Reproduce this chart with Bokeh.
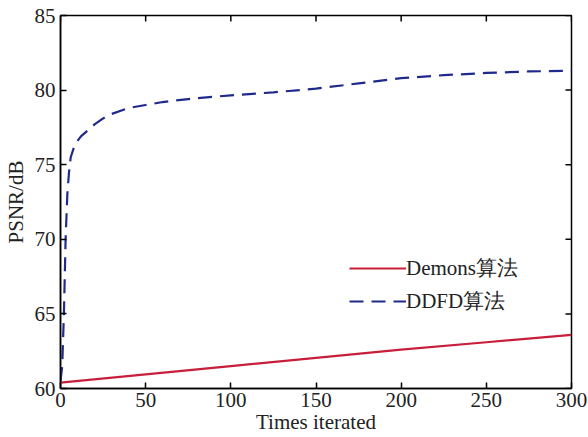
import math
from bokeh.plotting import figure
from bokeh.models import Range1d, Legend, LegendItem, FixedTicker
from bokeh.embed import file_html
from bokeh.resources import INLINE

# Data
ddfd_x = [0, 1, 2, 3, 4, 5, 6, 8, 10, 12, 15, 20, 25, 30, 40, 50, 60, 75, 100, 125, 150, 175, 200, 225, 250, 275, 300]
ddfd_y = [60.5, 61.5, 65.0, 70.0, 73.0, 74.5, 75.5, 76.2, 76.6, 76.9, 77.2, 77.7, 78.1, 78.4, 78.8, 79.0, 79.2, 79.4, 79.65, 79.85, 80.1, 80.45, 80.8, 81.0, 81.15, 81.25, 81.3]
demons_x = [0, 50, 100, 150, 200, 250, 300]
demons_y = [60.4, 60.95, 61.5, 62.05, 62.6, 63.1, 63.6]
x_ticks = [0, 50, 100, 150, 200, 250, 300]
y_ticks = [60, 65, 70, 75, 80, 85]

FONT = "Liberation Serif"
FS = "21px"

p = figure(width=588, height=437, output_backend="svg", toolbar_location=None,
           x_range=Range1d(0, 300), y_range=Range1d(60, 85),
           min_border_left=59, min_border_top=15, min_border_right=17, min_border_bottom=49)
p.grid.visible = False
p.outline_line_color = "black"
p.outline_line_width = 1.5
p.background_fill_color = "white"
p.border_fill_color = "white"

l1 = p.line(demons_x, demons_y, line_color="#c81e3c", line_width=2.2)
l2 = p.line(ddfd_x, ddfd_y, line_color="#1f2a8c", line_width=2.2, line_dash="14 8")

for ax in [p.xaxis[0], p.yaxis[0]]:
    ax.major_tick_in = 6
    ax.major_tick_out = 0
    ax.minor_tick_line_color = None
    ax.axis_line_width = 1.5
    ax.major_tick_line_width = 1.5
    ax.major_label_text_font = FONT
    ax.major_label_text_font_size = FS
    ax.major_label_text_color = "#222222"
    ax.axis_label_text_font = FONT
    ax.axis_label_text_font_size = FS
    ax.axis_label_text_font_style = "normal"
    ax.axis_label_text_color = "#222222"

p.xaxis[0].ticker = FixedTicker(ticks=x_ticks)
p.yaxis[0].ticker = FixedTicker(ticks=y_ticks)
p.xaxis[0].axis_label = "Times iterated"
p.yaxis[0].axis_label = "PSNR/dB"
p.xaxis[0].major_label_standoff = 4
p.xaxis[0].axis_label_standoff = 0
p.yaxis[0].major_label_standoff = 5
p.yaxis[0].axis_label_standoff = 4

# mirrored inward ticks on top and right edges
p.ray(x=x_ticks, y=[85] * len(x_ticks), length=6, length_units="screen",
      angle=-math.pi / 2, line_color="black", line_width=1.5)
p.ray(x=[300] * len(y_ticks), y=y_ticks, length=6, length_units="screen",
      angle=math.pi, line_color="black", line_width=1.5)

legend = Legend(items=[LegendItem(label="Demons算法", renderers=[l1]),
                       LegendItem(label="DDFD算法", renderers=[l2])],
                location=(289, 73), padding=0, margin=0, spacing=5,
                glyph_width=57, glyph_height=24, label_height=24,
                label_standoff=0, label_text_font=FONT, label_text_font_size=FS,
                label_text_color="#222222",
                background_fill_alpha=0, border_line_alpha=0)
p.add_layout(legend, "center")

open("out.html", "w").write(file_html(p, INLINE))
